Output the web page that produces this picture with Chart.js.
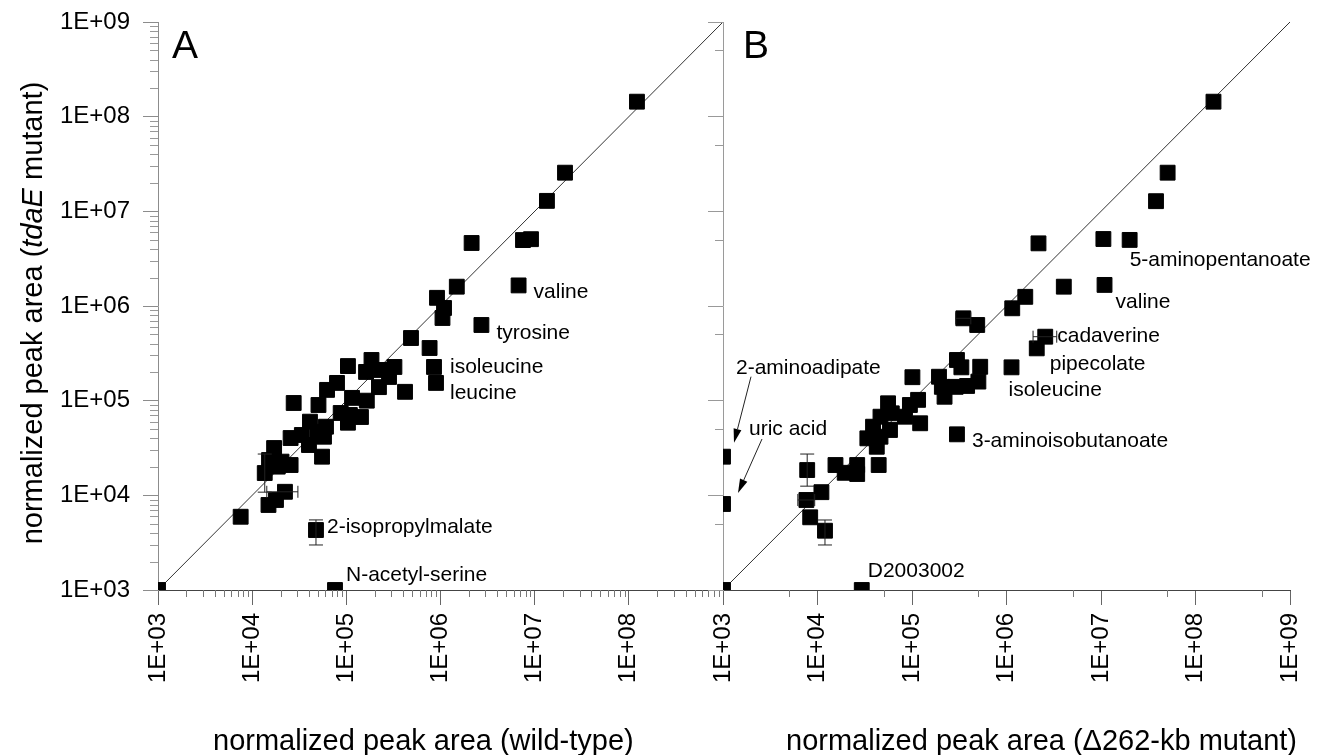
<!DOCTYPE html>
<html>
<head>
<meta charset="UTF-8">
<title>normalized peak area</title>
<script src="https://cdn.jsdelivr.net/npm/chart.js"></script>
<style>
  body { margin: 0; background: #fff; }
  #wrap { position: relative; width: 1333px; height: 755px; overflow: hidden; }
  #chartA { position: absolute; left: 0; top: 0; }
  #chartB { position: absolute; left: 700px; top: 0; }
</style>
</head>
<body>
<div id="wrap">
  <canvas id="chartA" width="724" height="755"></canvas>
  <canvas id="chartB" width="633" height="755"></canvas>
</div>

<script>
// ---- data ----
const decades = [1e3, 1e4, 1e5, 1e6, 1e7, 1e8, 1e9];
const diagonal = [1e3, 1e9];

// panel A: wild-type (x) vs tdaE mutant (y)
const wildType = [1e3, 1.22e8, 2.10e7, 1.35e7, 2.14e6, 7.52e6, 9.14e6, 6.75e6, 1.49e6, 9.18e5,
  1.09e6, 1.05e6, 2.72e6, 4.86e5, 7.66e5, 8.53e5, 8.96e5, 1.04e5, 1.85e5, 1.62e5,
  2.36e5, 3.24e5, 2.84e5, 2.22e5, 4.20e5, 7.96e4, 6.24e4, 2.76e4, 5.06e4, 1.15e5,
  1.65e5, 1.09e5, 1.43e5, 8.71e4, 1.04e5, 4.11e4, 6.08e4, 4.93e4, 5.79e4, 3.37e4,
  2.56e4, 4.01e4, 5.52e4, 1.71e4, 1.51e4, 2.56e4, 1.87e4, 1.36e4, 2.05e4, 2.23e4,
  1.79e4, 1.49e4, 7.55e3, 4.76e4, 7.58e4];
const tdaA = [1e3, 1.44e8, 2.56e7, 1.29e7, 4.63e6, 4.97e6, 5.08e6, 1.65e6, 1.60e6, 1.22e6,
  9.53e5, 7.47e5, 6.30e5, 4.59e5, 3.60e5, 2.27e5, 1.54e5, 2.32e5, 2.69e5, 2.01e5,
  2.11e5, 2.27e5, 1.78e5, 1.39e5, 1.24e5, 1.54e5, 1.30e5, 9.45e4, 9.00e4, 1.07e5,
  1.00e5, 7.06e4, 6.72e4, 7.41e4, 5.85e4, 6.00e4, 5.31e4, 4.70e4, 4.16e4, 4.34e4,
  4.03e4, 3.40e4, 2.56e4, 3.16e4, 2.36e4, 2.09e4, 2.01e4, 1.72e4, 2.27e4, 1.09e4,
  8.93e3, 7.91e3, 5.94e3, 4.30e3, 1e3];

// panel B: delta262-kb mutant (x) vs tdaE mutant (y)
const delta262 = [1e3, 1.55e8, 5.07e7, 3.82e7, 2.18e6, 1.06e7, 2.01e7, 1.09e7, 4.04e6, 1.58e6,
  1.15e6, 3.49e5, 4.90e5, 2.57e6, 2.09e6, 1.13e6, 2.99e5, 3.33e5, 5.27e5, 1.93e5,
  1.01e5, 2.07e5, 2.90e5, 3.83e5, 5.04e5, 2.21e5, 2.99e5, 1.16e5, 9.50e4, 5.58e4,
  6.11e4, 8.43e4, 1.22e5, 4.64e4, 3.87e4, 5.85e4, 4.64e4, 3.37e4, 4.24e4, 4.44e4,
  1.55e4, 1.94e4, 2.63e4, 2.63e4, 7.78e3, 1.10e4, 7.63e3, 8.37e3, 1.20e4, 2.94e4,
  1e3, 1e3];
const tdaB = [1e3, 1.44e8, 2.56e7, 1.28e7, 4.59e6, 5.10e6, 4.99e6, 1.67e6, 1.60e6, 1.25e6,
  9.46e5, 7.41e5, 6.30e5, 4.74e5, 3.57e5, 2.25e5, 2.69e5, 2.25e5, 2.28e5, 1.79e5,
  1.77e5, 1.40e5, 1.40e5, 1.43e5, 1.59e5, 1.10e5, 4.41e4, 1.02e5, 9.00e4, 9.38e4,
  7.35e4, 6.77e4, 5.77e4, 6.77e4, 5.31e4, 4.90e4, 4.16e4, 4.00e4, 3.26e4, 2.09e4,
  2.09e4, 1.73e4, 1.68e4, 2.09e4, 1.85e4, 1.08e4, 8.93e3, 5.86e3, 4.23e3, 1e3,
  2.56e4, 8.1e3];

// error bars: [point index, low, high]
const errXA = [[49, 1.43e4, 3.06e4]];
const errYA = [[47, 1.08e4, 2.73e4], [53, 2.99e3, 5.5e3]];
const errXB = [[11, 2.90e5, 4.19e5], [13, 1.91e6, 3.4e6], [46, 6.19e3, 9.34e3]];
const errYB = [[44, 1.25e4, 2.73e4], [48, 2.99e3, 5.49e3]];

// named metabolites (point index)
const namesA = ['valine', 'tyrosine', 'isoleucine', 'leucine', '2-isopropylmalate', 'N-acetyl-serine'];
const namedA = [7, 12, 15, 16, 53, 54];
const namesB = ['5-aminopentanoate', 'valine', 'cadaverine', 'pipecolate', 'isoleucine',
  '3-aminoisobutanoate', '2-aminoadipate', 'uric acid', 'D2003002'];
const namedB = [6, 7, 13, 14, 15, 26, 50, 51, 49];

// ---- helpers ----
const FONT = "'Liberation Sans', Arial, sans-serif";
const minorsAll = [];
decades.slice(0, -1).forEach(d => { for (let k = 2; k < 10; k++) minorsAll.push(k * d); });
const minorsFive = decades.slice(0, -1).map(d => 5 * d);

const fmtExp = v => '1E+' + String(Math.round(Math.log10(v))).padStart(2, '0');
const points = (xs, ys) => xs.map((x, i) => ({ x: x, y: ys[i] }));

function line(ctx, x1, y1, x2, y2) {
    ctx.beginPath(); ctx.moveTo(x1, y1); ctx.lineTo(x2, y2); ctx.stroke();
}

function arrow(ctx, x1, y1, x2, y2) {
    const a = Math.atan2(y2 - y1, x2 - x1), L = 14, W = 4;
    const bx = x2 - L * Math.cos(a), by = y2 - L * Math.sin(a);
    line(ctx, x1, y1, bx, by);
    ctx.beginPath();
    ctx.moveTo(x2, y2);
    ctx.lineTo(bx + W * Math.sin(a), by - W * Math.cos(a));
    ctx.lineTo(bx - W * Math.sin(a), by + W * Math.cos(a));
    ctx.closePath();
    ctx.fill();
}

const extras = {
    id: 'extras',
    afterDatasetsDraw(chart, args, o) {
        const ctx = chart.ctx, ca = chart.chartArea;
        const px = v => chart.scales.x.getPixelForValue(v);
        const py = v => chart.scales.y.getPixelForValue(v);
        ctx.save();

        // minor ticks
        ctx.lineWidth = 1;
        ctx.strokeStyle = '#777';
        o.minorX.forEach(v => { const x = Math.round(px(v)) + 0.5; line(ctx, x, ca.bottom, x, ca.bottom + 7); });
        ctx.strokeStyle = '#999';
        o.minorY.forEach(v => { const y = Math.round(py(v)) + 0.5; line(ctx, ca.left - 8, y, ca.left, y); });

        // error bars
        ctx.strokeStyle = '#222';
        o.errX.forEach(([i, lo, hi]) => {
            const y = py(o.ys[i]), x1 = px(lo), x2 = px(hi);
            line(ctx, x1, y, x2, y);
            line(ctx, x1, y - 6, x1, y + 6);
            line(ctx, x2, y - 6, x2, y + 6);
        });
        o.errY.forEach(([i, lo, hi]) => {
            const x = px(o.xs[i]), y1 = py(lo), y2 = py(hi);
            line(ctx, x, y1, x, y2);
            line(ctx, x - 7, y1, x + 7, y1);
            line(ctx, x - 7, y2, x + 7, y2);
        });

        // metabolite labels
        ctx.fillStyle = '#000';
        ctx.font = '21px ' + FONT;
        ctx.textAlign = 'left';
        ctx.textBaseline = 'middle';
        o.names.forEach((t, k) => {
            const i = o.named[k], off = o.offsets[k];
            const x = px(o.xs[i]), y = py(o.ys[i]);
            ctx.fillText(t, x + off[0], y + off[1]);
            if (off.length > 2) arrow(ctx, x + off[2], y + off[3], x + off[4], y + off[5]);
        });

        // panel letter
        ctx.font = '39px ' + FONT;
        ctx.textBaseline = 'alphabetic';
        ctx.fillText(o.letter, o.letterPos[0], o.letterPos[1]);

        // x axis title
        ctx.font = '29px ' + FONT;
        ctx.fillText(o.xTitle, o.xTitlePos[0], o.xTitlePos[1]);

        // y axis title with italic gene name
        if (o.yTitle) {
            const parts = o.yTitle;
            const fontOf = p => (p[1] ? 'italic ' : '') + '29px ' + FONT;
            let total = 0;
            parts.forEach(p => { ctx.font = fontOf(p); total += ctx.measureText(p[0]).width; });
            ctx.translate(42, (ca.top + ca.bottom) / 2 + 7);
            ctx.rotate(-Math.PI / 2);
            let x = -total / 2;
            parts.forEach(p => { ctx.font = fontOf(p); ctx.fillText(p[0], x, 0); x += ctx.measureText(p[0]).width; });
        }
        ctx.restore();
    }
};

function logAxis(extra) {
    return Object.assign({
        type: 'logarithmic',
        min: 1e3,
        max: 1e9,
        afterBuildTicks: s => { s.ticks = decades.map(v => ({ value: v })); }
    }, extra);
}

function xAxis(labelFn) {
    return logAxis({
        position: 'bottom',
        border: { display: true, color: '#444', width: 1 },
        grid: { display: true, drawOnChartArea: false, drawTicks: true, tickLength: 15, tickColor: '#666' },
        ticks: {
            font: { family: FONT, size: 24 }, color: '#000', padding: 8,
            minRotation: 90, maxRotation: 90, autoSkip: false, callback: labelFn
        },
        afterFit: s => { s.height = 165; s.paddingLeft = 0; s.paddingRight = 0; }
    });
}

function scatterSet(xs, ys) {
    return {
        type: 'scatter',
        data: points(xs, ys),
        pointStyle: 'rect',
        pointRadius: 10.5,
        pointHoverRadius: 10.5,
        backgroundColor: '#000',
        borderColor: '#000',
        borderWidth: 1,
        order: 1
    };
}

function diagonalSet() {
    return {
        type: 'line',
        data: points(diagonal, diagonal),
        borderColor: '#333',
        borderWidth: 1,
        pointRadius: 0,
        order: 2
    };
}

const baseOptions = {
    responsive: false,
    animation: false,
    events: [],
    plugins: { legend: { display: false }, tooltip: { enabled: false } }
};

new Chart(document.getElementById('chartA'), {
    type: 'scatter',
    data: { datasets: [diagonalSet(), scatterSet(wildType, tdaA)] },
    options: Object.assign({}, baseOptions, {
        layout: { autoPadding: false, padding: { left: 0, right: 1, top: 22, bottom: 0 } },
        scales: {
            x: xAxis(v => v >= 1e9 ? '' : fmtExp(v)),
            y: logAxis({
                position: 'left',
                border: { display: true, color: '#8c8c8c', width: 1 },
                grid: { display: true, drawOnChartArea: false, drawTicks: true, tickLength: 15, tickColor: '#8c8c8c' },
                ticks: { font: { family: FONT, size: 24 }, color: '#000', padding: 13, autoSkip: false, callback: fmtExp },
                afterFit: s => { s.width = 158; s.paddingTop = 0; s.paddingBottom = 0; }
            })
        },
        plugins: Object.assign({}, baseOptions.plugins, {
            extras: {
                xs: wildType, ys: tdaA,
                minorX: minorsAll, minorY: minorsAll,
                errX: errXA, errY: errYA,
                names: namesA, named: namedA,
                offsets: [[15, 7], [15, 8], [16, 0], [14, 10], [11, -3], [11, -15]],
                letter: 'A', letterPos: [172, 58],
                xTitle: 'normalized peak area (wild-type)', xTitlePos: [213, 750],
                yTitle: [['normalized peak area (', false], ['tdaE', true], [' mutant)', false]]
            }
        })
    }),
    plugins: [extras]
});

new Chart(document.getElementById('chartB'), {
    type: 'scatter',
    data: { datasets: [diagonalSet(), scatterSet(delta262, tdaB)] },
    options: Object.assign({}, baseOptions, {
        layout: { autoPadding: false, padding: { left: 0, right: 43, top: 22, bottom: 0 } },
        scales: {
            x: xAxis(fmtExp),
            y: logAxis({
                position: 'left',
                border: { display: true, color: '#9a9a9a', width: 1 },
                grid: { display: true, drawOnChartArea: false, drawTicks: true, tickLength: 15, tickColor: '#999' },
                ticks: { display: false },
                afterFit: s => { s.width = 23; s.paddingTop = 0; s.paddingBottom = 0; }
            })
        },
        plugins: Object.assign({}, baseOptions.plugins, {
            extras: {
                xs: delta262, ys: tdaB,
                minorX: minorsFive, minorY: minorsFive,
                errX: errXB, errY: errYB,
                names: namesB, named: namedB,
                offsets: [[0, 20], [11, 17], [12, 0], [13, 16], [-3, 23], [15, 7],
                    [13, -88, 28, -80, 11, -14], [26, -75, 39, -65, 15, -11], [6, -19]],
                letter: 'B', letterPos: [43, 58],
                xTitle: 'normalized peak area (\u0394262-kb mutant)', xTitlePos: [86, 750],
                yTitle: null
            }
        })
    }),
    plugins: [extras]
});
</script>
</body>
</html>
